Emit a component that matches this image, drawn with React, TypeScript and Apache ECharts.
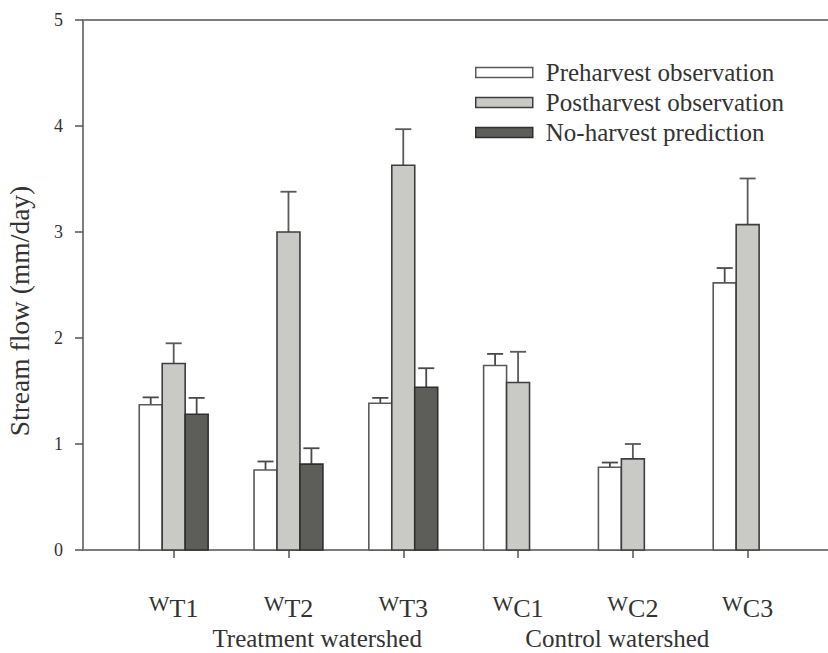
import React, { useEffect, useRef } from "react";
import * as echarts from "echarts";

const categories = ["T1", "T2", "T3", "C1", "C2", "C3"];
const groupNames = ["Treatment watershed", "Control watershed"];
const seriesNames = ["Preharvest observation", "Postharvest observation", "No-harvest prediction"];
const preharvest = [1.37, 0.755, 1.385, 1.74, 0.78, 2.52];
const preharvestErr = [0.07, 0.08, 0.05, 0.11, 0.045, 0.14];
const postharvest = [1.76, 3.0, 3.63, 1.58, 0.86, 3.07];
const postharvestErr = [0.19, 0.38, 0.34, 0.29, 0.14, 0.435];
const noHarvest = [1.28, 0.81, 1.535, null, null, null];
const noHarvestErr = [0.155, 0.15, 0.18, null, null, null];
const yTickValues = [0, 1, 2, 3, 4, 5];

// layout: where the group captions sit along the x scale
const groupLabelAt = [2.25, 4.865];

const FONT = "Liberation Serif";
const TEXT = "#333333";
const fills = ["#ffffff", "#c9c9c5", "#5d5d59"];
const strokes = ["#5a5a5a", "#3e3e3e", "#2f2f2f"];
const errColors = ["#4a4a4a", "#5a5a5a", "#4a4a4a"];

export default function App() {
  const ref = useRef<HTMLDivElement>(null);
  useEffect(() => {
    document.body.style.margin = "0";
    const chart = echarts.init(ref.current!, null, { renderer: "svg" });
    const positions = categories.map((_, i) => i + 1);
    const build = (vals: (number | null)[], errs: (number | null)[]) =>
      vals
        .map((v, i) => (v == null ? null : [positions[i], v, errs[i]]))
        .filter((d) => d != null);
    const datasets = [
      build(preharvest, preharvestErr),
      build(postharvest, postharvestErr),
      build(noHarvest, noHarvestErr),
    ];
    const barW = 0.2;
    const capHalf = 0.07;
    const makeRender = (si: number) => (params: any, api: any) => {
      const x = api.value(0) + (si - 1) * barW;
      const v = api.value(1);
      const e = api.value(2);
      const pBase = api.coord([x - barW / 2, 0]);
      const pTop = api.coord([x + barW / 2, v]);
      const pc = api.coord([x, v]);
      const pe = api.coord([x, v + e]);
      const cl = api.coord([x - capHalf, v + e]);
      const cr = api.coord([x + capHalf, v + e]);
      return {
        type: "group",
        children: [
          {
            type: "line",
            shape: { x1: pc[0], y1: pc[1], x2: pe[0], y2: pe[1] },
            style: { stroke: errColors[si], lineWidth: 1.8 },
          },
          {
            type: "line",
            shape: { x1: cl[0], y1: cl[1], x2: cr[0], y2: cr[1] },
            style: { stroke: errColors[si], lineWidth: 1.8 },
          },
          {
            type: "rect",
            shape: {
              x: pBase[0],
              y: pTop[1],
              width: pTop[0] - pBase[0],
              height: pBase[1] - pTop[1],
            },
            style: { fill: fills[si], stroke: strokes[si], lineWidth: 1.6 },
          },
        ],
      };
    };

    const labelFormatter = (value: number) => {
      const i = Math.round(value) - 1;
      return `{w|W}{s|${categories[i]}}`;
    };
    const groupFormatter = (value: number) => {
      const i = groupLabelAt.findIndex((g) => Math.abs(g - value) < 1e-6);
      return i >= 0 ? groupNames[i] : "";
    };

    chart.setOption({
      animation: false,
      grid: { left: 83, right: 0, top: 20, bottom: 103, containLabel: false, outerBoundsMode: "none" },
      legend: {
        orient: "vertical",
        left: 470,
        top: 55,
        itemWidth: 57,
        itemHeight: 10,
        itemGap: 5,
        icon: "rect",
        selectedMode: false,
        textStyle: { fontFamily: FONT, fontSize: 25, color: TEXT, padding: [0, 0, 0, 8] },
        data: seriesNames.map((n, i) => ({
          name: n,
          itemStyle: { color: fills[i], borderColor: strokes[i], borderWidth: 1.5 },
        })),
      },
      xAxis: [
        {
          type: "value",
          min: 0.21,
          max: 6.7,
          splitLine: { show: false },
          axisLine: { show: true, lineStyle: { color: "#7d7d7d", width: 2 } },
          axisTick: {
            show: true,
            customValues: positions,
            length: 8,
            lineStyle: { color: "#555", width: 1.5 },
          },
          axisLabel: {
            customValues: positions,
            showMinLabel: true,
            showMaxLabel: true,
            hideOverlap: false,
            margin: 42,
            formatter: labelFormatter,
            color: TEXT,
            fontFamily: FONT,
            rich: {
              w: { fontFamily: FONT, fontSize: 22, color: TEXT, padding: [0, 0, 10, 0] },
              s: { fontFamily: FONT, fontSize: 26, color: TEXT },
            },
          },
        },
        {
          type: "value",
          position: "top",
          min: 0.21,
          max: 6.7,
          splitLine: { show: false },
          axisLine: { show: true, lineStyle: { color: "#7d7d7d", width: 2 } },
          axisTick: { show: false },
          axisLabel: { show: false },
        },
        {
          type: "value",
          position: "bottom",
          min: 0.21,
          max: 6.7,
          splitLine: { show: false },
          axisLine: { show: false },
          axisTick: { show: false },
          axisLabel: {
            customValues: groupLabelAt,
            showMinLabel: true,
            showMaxLabel: true,
            margin: 76,
            formatter: groupFormatter,
            fontFamily: FONT,
            fontSize: 25,
            color: TEXT,
          },
        },
      ],
      yAxis: {
        type: "value",
        min: yTickValues[0],
        max: yTickValues[yTickValues.length - 1],
        interval: 1,
        splitLine: { show: false },
        axisLine: { show: true, lineStyle: { color: "#7d7d7d", width: 2 } },
        axisTick: { show: true, length: 8, lineStyle: { color: "#555", width: 1.5 } },
        axisLabel: { margin: 20, fontFamily: FONT, fontSize: 18, color: TEXT },
        name: "Stream flow (mm/day)",
        nameLocation: "middle",
        nameGap: 50,
        nameTextStyle: { fontFamily: FONT, fontSize: 27.5, color: TEXT, padding: [0, 52, 0, 0] },
      },
      series: seriesNames.map((n, si) => ({
        name: n,
        type: "custom",
        xAxisIndex: 0,
        renderItem: makeRender(si),
        encode: { x: 0, y: 1 },
        itemStyle: { color: fills[si], borderColor: strokes[si] },
        data: datasets[si],
      })),
    });
    return () => chart.dispose();
  }, []);
  return <div ref={ref} style={{ width: 828, height: 653 }} />;
}
